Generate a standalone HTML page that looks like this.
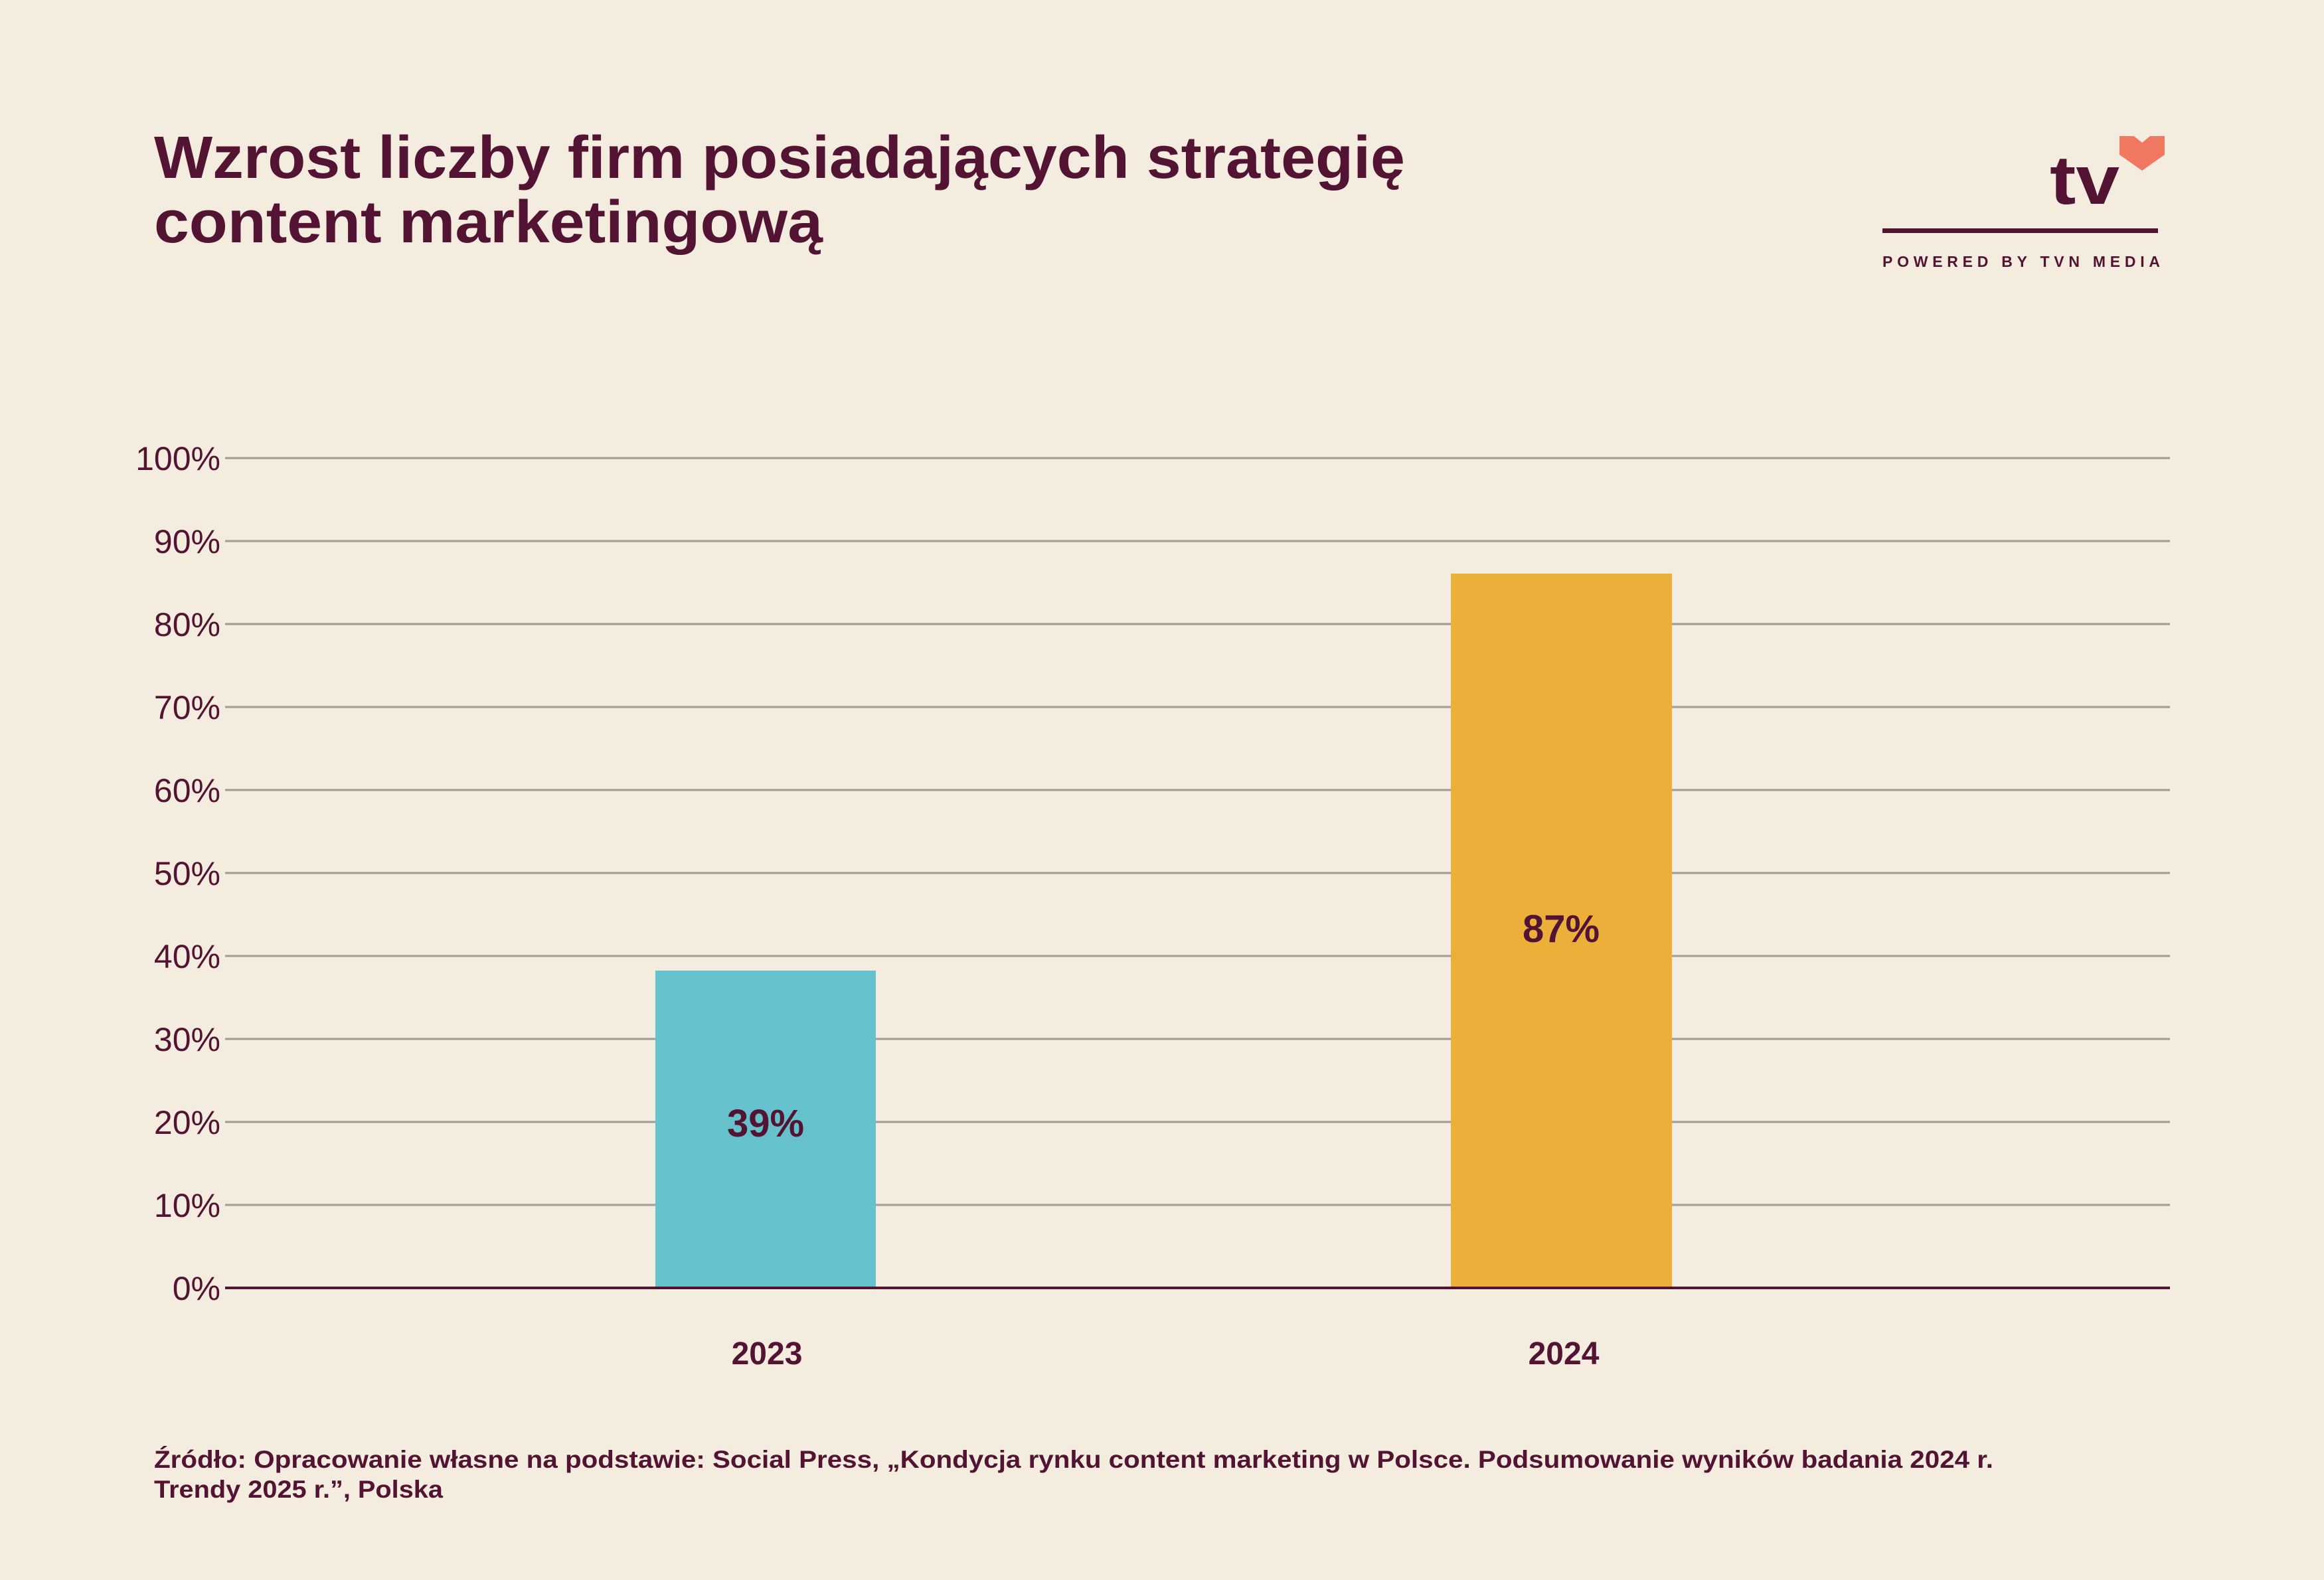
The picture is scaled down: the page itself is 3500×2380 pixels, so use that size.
<!DOCTYPE html>
<html><head><meta charset="utf-8"><style>
body{margin:0;background:#f4ecdf;}
</style></head><body>
<svg width="3500" height="2380" viewBox="0 0 3500 2380" xmlns="http://www.w3.org/2000/svg" style="display:block;font-family:'Liberation Sans',sans-serif">
<rect width="3500" height="2380" fill="#f4ecdf"/>
<g fill="#521432" font-weight="bold" font-size="90">
<text x="232" y="268" textLength="1884" lengthAdjust="spacingAndGlyphs">Wzrost liczby firm posiadających strategię</text>
<text x="232" y="365" textLength="1007" lengthAdjust="spacingAndGlyphs">content marketingową</text>
</g>
<!-- logo -->
<text x="3087" y="307" font-size="104" font-weight="bold" fill="#521432" textLength="105" lengthAdjust="spacingAndGlyphs">tv</text>
<path d="M3192 205 h22 l12 10 l12 -10 h22 v28 l-34 24 l-34 -24 z" fill="#f07860"/>
<rect x="2835" y="344" width="415" height="7" fill="#521432"/>
<text x="2835" y="402" font-size="23" font-weight="bold" fill="#521432" textLength="418" lengthAdjust="spacing">POWERED BY TVN MEDIA</text>
<!-- grid -->
<g stroke="#a09a90" stroke-width="3">
<line x1="339" x2="3268" y1="690" y2="690"/><line x1="339" x2="3268" y1="815" y2="815"/>
<line x1="339" x2="3268" y1="940" y2="940"/><line x1="339" x2="3268" y1="1065" y2="1065"/>
<line x1="339" x2="3268" y1="1190" y2="1190"/><line x1="339" x2="3268" y1="1315" y2="1315"/>
<line x1="339" x2="3268" y1="1440" y2="1440"/><line x1="339" x2="3268" y1="1565" y2="1565"/>
<line x1="339" x2="3268" y1="1690" y2="1690"/><line x1="339" x2="3268" y1="1815" y2="1815"/>
</g>
<g font-size="50" fill="#521432" text-anchor="end">
<text x="332" y="708">100%</text><text x="332" y="833">90%</text><text x="332" y="958">80%</text>
<text x="332" y="1083">70%</text><text x="332" y="1208">60%</text><text x="332" y="1333">50%</text>
<text x="332" y="1458">40%</text><text x="332" y="1583">30%</text><text x="332" y="1708">20%</text>
<text x="332" y="1833">10%</text><text x="332" y="1958">0%</text>
</g>
<rect x="987" y="1462" width="332" height="478" fill="#65c1cb"/>
<rect x="2185" y="864" width="333" height="1076" fill="#ebaf3a"/>
<line x1="339" x2="3268" y1="1940" y2="1940" stroke="#521432" stroke-width="4"/>
<g font-size="58" font-weight="bold" fill="#521432" text-anchor="middle">
<text x="1153" y="1712">39%</text><text x="2351" y="1419">87%</text>
</g>
<g font-size="48" font-weight="bold" fill="#521432" text-anchor="middle">
<text x="1155" y="2055">2023</text><text x="2355" y="2055">2024</text>
</g>
<g font-size="37" font-weight="bold" fill="#521432">
<text x="232" y="2211" textLength="2770" lengthAdjust="spacingAndGlyphs">Źródło: Opracowanie własne na podstawie: Social Press, „Kondycja rynku content marketing w Polsce. Podsumowanie wyników badania 2024 r.</text>
<text x="232" y="2256" textLength="435" lengthAdjust="spacingAndGlyphs">Trendy 2025 r.”, Polska</text>
</g>
</svg>
</body></html>
